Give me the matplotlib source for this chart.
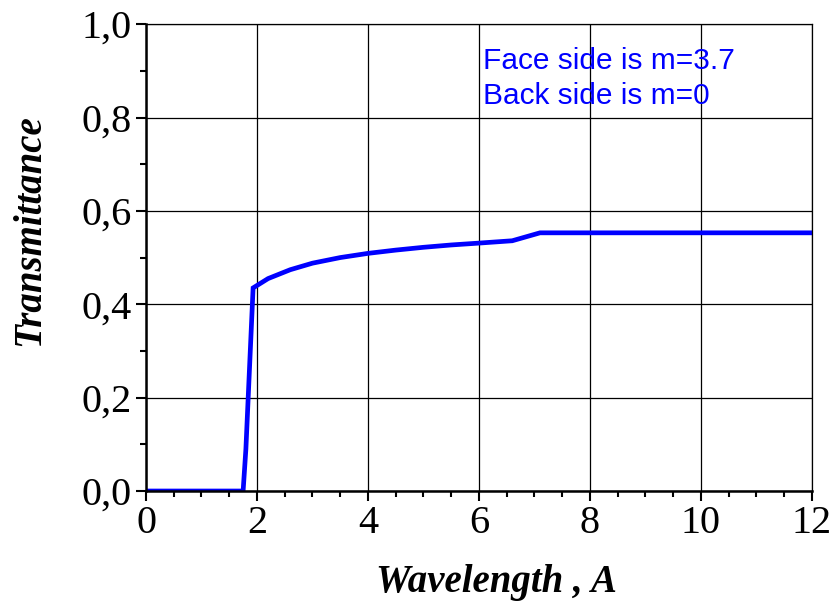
import matplotlib
matplotlib.use("Agg")
import matplotlib.pyplot as plt
from matplotlib.ticker import MultipleLocator

# curve
wavelength = [0, 0.5, 1.0, 1.5, 1.75, 1.8, 1.93, 2.2, 2.6, 3.0, 3.5, 4.0, 4.5, 5.0, 5.5,
              6.0, 6.6, 7.1, 8, 9, 10, 11, 12]
transmittance = [0, 0, 0, 0, 0, 0.09, 0.435, 0.455, 0.474, 0.488, 0.500, 0.509, 0.516,
                 0.522, 0.527, 0.531, 0.536, 0.553, 0.553, 0.553, 0.553, 0.553, 0.553]

x_ticks = [0, 2, 4, 6, 8, 10, 12]
y_ticks = [0.0, 0.2, 0.4, 0.6, 0.8, 1.0]
y_labels = ["0,0", "0,2", "0,4", "0,6", "0,8", "1,0"]
notes = ["Face side is m=3.7", "Back side is m=0"]

fig = plt.figure(figsize=(8.31, 6.03), dpi=100)
ax = fig.add_axes([0.1757, 0.1857, 0.8013, 0.7743])

ax.plot(wavelength, transmittance, color="#0000ff", linewidth=3.4, solid_joinstyle="miter")

ax.set_xlim(0, 12)
ax.set_ylim(0, 1.0)
ax.set_xticks(x_ticks)
ax.set_xticklabels([str(t) for t in x_ticks], family="Liberation Serif", fontsize=29)
ax.set_yticks(y_ticks)
ax.set_yticklabels(y_labels, family="Liberation Serif", fontsize=29)
ax.xaxis.set_minor_locator(MultipleLocator(0.5))
ax.yaxis.set_minor_locator(MultipleLocator(0.1))
ax.tick_params(which="major", direction="out", length=7, width=1.5, pad=3)
ax.tick_params(which="minor", direction="out", length=4, width=1.5)
ax.grid(True, which="major", color="black", linewidth=0.9)

for side in ["left", "bottom"]:
    ax.spines[side].set_linewidth(1.8)
for side in ["right", "top"]:
    ax.spines[side].set_linewidth(0.9)

ax.set_xlabel("Wavelength , A", family="Liberation Serif", fontsize=28,
              fontweight="bold", style="italic", va="center")
ax.set_ylabel("Transmittance", family="Liberation Serif", fontsize=28,
              fontweight="bold", style="italic", va="center")
ax.xaxis.set_label_coords(0.526, -0.195)
ax.yaxis.set_label_coords(-0.174, 0.559)

ax.text(6.07, 0.903, notes[0], color="#0000ff", family="Liberation Sans", fontsize=21.5)
ax.text(6.07, 0.828, notes[1], color="#0000ff", family="Liberation Sans", fontsize=21.5)

fig.savefig("out.png", dpi=100)
